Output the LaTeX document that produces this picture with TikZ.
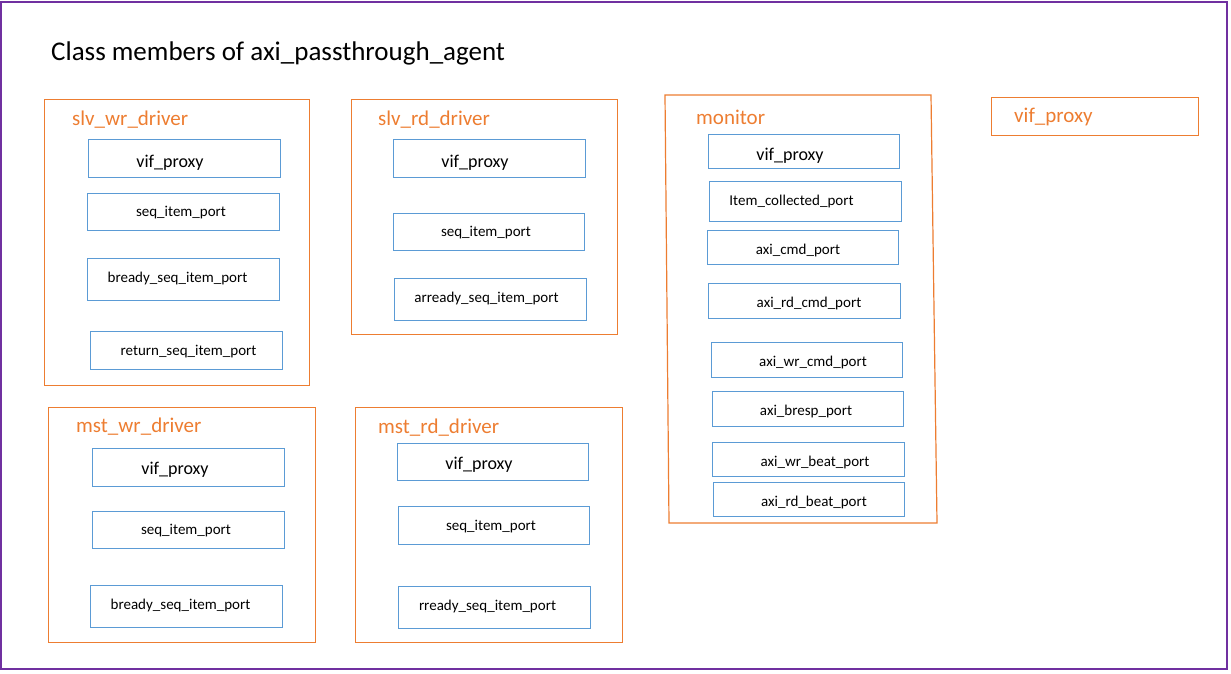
\documentclass[tikz,border=0pt]{standalone}
\usepackage{fontspec}
\setmainfont{Carlito}
\definecolor{oorange}{HTML}{ED7D31}
\definecolor{oblue}{HTML}{5B9BD5}
\definecolor{opurple}{HTML}{7030A0}
\begin{document}
\begin{tikzpicture}[x=1pt,y=-1pt,
  obox/.style={draw=oorange,line width=1.2pt,anchor=north west,inner sep=0pt},
  bbox/.style={draw=oblue,line width=1pt,anchor=north west,inner sep=0pt},
  olabel/.style={text=oorange,font=\fontsize{21}{23}\selectfont,anchor=base west,inner sep=0pt},
  vlabel/.style={font=\fontsize{18}{20}\selectfont,inner sep=0pt},
  plabel/.style={font=\fontsize{15}{17}\selectfont,inner sep=0pt}]
\useasboundingbox (0,0) rectangle (1231,674);
\draw[opurple,line width=1.5pt] (1,2) rectangle (1227,669);
\node[anchor=base west,inner sep=0pt,font=\fontsize{27}{29}\selectfont] (title) at (51,60.5) {Class members of axi\_passthrough\_agent};

% slv_wr_driver
\node[obox,minimum width=265pt,minimum height=286pt] (swd) at (44,99) {};
\node[olabel] (swdl) at (72,125.5) {slv\_wr\_driver};
\node[bbox,minimum width=192pt,minimum height=38pt] (swd1) at (88,139) {};
\node[vlabel] (swd1t) at (170,163) {vif\_proxy};
\node[bbox,minimum width=192pt,minimum height=37pt] (swd2) at (87,193) {};
\node[plabel] (swd2t) at (181,213) {seq\_item\_port};
\node[bbox,minimum width=192pt,minimum height=42pt] (swd3) at (87,258) {};
\node[plabel] (swd3t) at (177.5,278) {bready\_seq\_item\_port};
\node[bbox,minimum width=192pt,minimum height=38pt] (swd4) at (90,331) {};
\node[plabel] (swd4t) at (188.5,352) {return\_seq\_item\_port};

% slv_rd_driver
\node[obox,minimum width=266pt,minimum height=235pt] (srd) at (351,99) {};
\node[olabel] (srdl) at (378,125.5) {slv\_rd\_driver};
\node[bbox,minimum width=192pt,minimum height=38pt] (srd1) at (393,139) {};
\node[vlabel] (srd1t) at (475,163) {vif\_proxy};
\node[bbox,minimum width=191pt,minimum height=37pt] (srd2) at (393,213) {};
\node[plabel] (srd2t) at (486,233) {seq\_item\_port};
\node[bbox,minimum width=192pt,minimum height=42pt] (srd3) at (394,278) {};
\node[plabel] (srd3t) at (486.5,298) {arready\_seq\_item\_port};

% mst_wr_driver
\node[obox,minimum width=267pt,minimum height=235pt] (mwd) at (48,407) {};
\node[olabel] (mwdl) at (76,432.5) {mst\_wr\_driver};
\node[bbox,minimum width=192pt,minimum height=38pt] (mwd1) at (92,448) {};
\node[vlabel] (mwd1t) at (175,470) {vif\_proxy};
\node[bbox,minimum width=192pt,minimum height=37pt] (mwd2) at (92,511) {};
\node[plabel] (mwd2t) at (186,531) {seq\_item\_port};
\node[bbox,minimum width=192pt,minimum height=42pt] (mwd3) at (90,585) {};
\node[plabel] (mwd3t) at (180.5,605) {bready\_seq\_item\_port};

% mst_rd_driver
\node[obox,minimum width=267pt,minimum height=235pt] (mrd) at (355,407) {};
\node[olabel] (mrdl) at (378,433.5) {mst\_rd\_driver};
\node[bbox,minimum width=191pt,minimum height=37pt] (mrd1) at (397,443) {};
\node[vlabel] (mrd1t) at (479,465) {vif\_proxy};
\node[bbox,minimum width=191pt,minimum height=38pt] (mrd2) at (398,506) {};
\node[plabel] (mrd2t) at (491,527) {seq\_item\_port};
\node[bbox,minimum width=192pt,minimum height=42pt] (mrd3) at (398,586) {};
\node[plabel] (mrd3t) at (487.5,606) {rready\_seq\_item\_port};

% monitor
\coordinate (m1) at (665,95);
\coordinate (m2) at (931,95);
\coordinate (m3) at (937,523);
\coordinate (m4) at (669,523);
\draw[oorange,line width=1.2pt] (m1) -- (m2) -- (m3) -- (m4) -- cycle;
\node[olabel] (monl) at (696,124.5) {monitor};
\node[bbox,minimum width=191pt,minimum height=34pt] (mon1) at (708,134) {};
\node[vlabel] (mon1t) at (790,156) {vif\_proxy};
\node[bbox,minimum width=192pt,minimum height=40pt] (mon2) at (709,181) {};
\node[plabel] (mon2t) at (791.5,201) {Item\_collected\_port};
\node[bbox,minimum width=191pt,minimum height=34pt] (mon3) at (707,230) {};
\node[plabel] (mon3t) at (798,250) {axi\_cmd\_port};
\node[bbox,minimum width=192pt,minimum height=35pt] (mon4) at (708,283) {};
\node[plabel] (mon4t) at (809,303) {axi\_rd\_cmd\_port};
\node[bbox,minimum width=191pt,minimum height=35pt] (mon5) at (711,342) {};
\node[plabel] (mon5t) at (813,362) {axi\_wr\_cmd\_port};
\node[bbox,minimum width=191pt,minimum height=35pt] (mon6) at (712,391) {};
\node[plabel] (mon6t) at (806,411) {axi\_bresp\_port};
\node[bbox,minimum width=192pt,minimum height=34pt] (mon7) at (712,442) {};
\node[plabel] (mon7t) at (815,462) {axi\_wr\_beat\_port};
\node[bbox,minimum width=191pt,minimum height=34pt] (mon8) at (713,482) {};
\node[plabel] (mon8t) at (814,502) {axi\_rd\_beat\_port};

% standalone vif_proxy
\node[obox,minimum width=207pt,minimum height=38pt] (vp) at (991,97) {};
\node[olabel] (vpl) at (1014,123) {vif\_proxy};
\end{tikzpicture}
\end{document}
